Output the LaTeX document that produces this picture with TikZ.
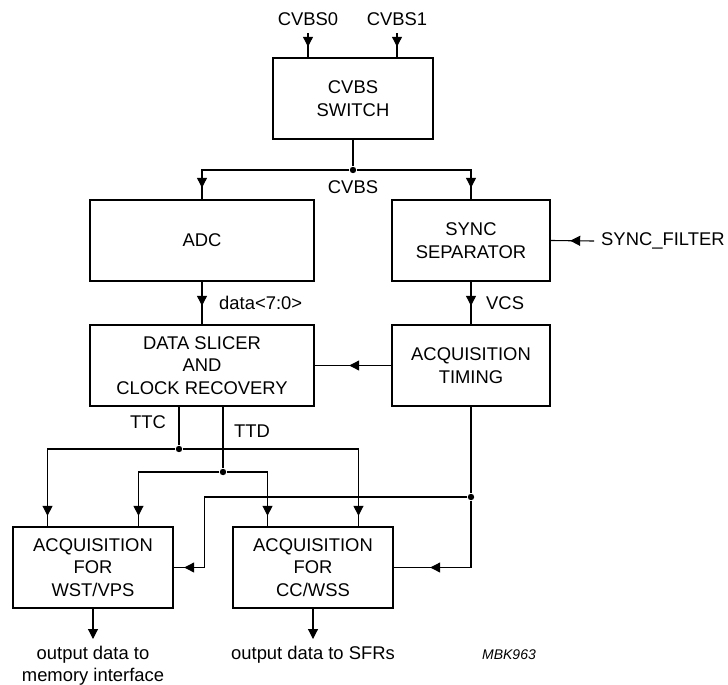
\documentclass[tikz,border=0pt]{standalone}
\usepackage{fontspec}
\setmainfont{Liberation Sans}
\usetikzlibrary{arrows.meta,decorations.markings,calc}

\begin{document}
\begin{tikzpicture}[x=0.5pt,y=-0.5pt,
  font=\fontsize{9.2}{11.2}\selectfont,
  line width=0.55pt,
  >={Triangle[length=5pt,width=5pt]},
  block/.style={rectangle,draw,line width=1.2pt,minimum width=80pt,minimum height=40.5pt,inner sep=0pt,align=center},
  dot/.style={circle,fill,inner sep=0pt,minimum size=3.2pt},
  arrowat/.style={postaction={decorate},decoration={markings,mark=at position #1 with {\arrow{>}}}}]
\useasboundingbox (0,0) rectangle (728,685);
\node[block] (sw) at (353,98.5) {CVBS\\SWITCH};
\node[block,minimum width=112pt] (adc) at (202,240.5) {ADC};
\node[block,minimum width=79pt] (sync) at (471,240.5) {SYNC\\SEPARATOR};
\node[block,minimum width=112pt] (slicer) at (202,365.5) {DATA SLICER\\AND\\CLOCK RECOVERY};
\node[block,minimum width=79pt] (timing) at (471,365.5) {ACQUISITION\\TIMING};
\node[block] (wst) at (93,567.5) {ACQUISITION\\FOR\\WST/VPS};
\node[block] (cc) at (313,567.5) {ACQUISITION\\FOR\\CC/WSS};
% input ports of the two acquisition blocks
\coordinate (wstin1) at ($(wst.north west)!.22!(wst.north east)$);
\coordinate (wstin2) at ($(wst.north west)!.78!(wst.north east)$);
\coordinate (ccin1) at ($(cc.north west)!.22!(cc.north east)$);
\coordinate (ccin2) at ($(cc.north west)!.78!(cc.north east)$);
% video inputs
\node (cvbs0) at (308,19.5) {CVBS0};
\node (cvbs1) at (397,19.5) {CVBS1};
\draw[arrowat=-5pt] (cvbs0.south) -- (cvbs0.south |- sw.north);
\draw[arrowat=-5pt] (cvbs1.south) -- (cvbs1.south |- sw.north);
\node[dot] (jcv) at (353,170) {};
\node (cvbs) at (353,187) {CVBS};
\draw (sw.south) -- (jcv);
\draw[arrowat=-5.5pt] (jcv) -| (adc.north);
\draw[arrowat=-5.5pt] (jcv) -| (sync.north);
\node[anchor=west] (syncf) at (594,241) {SYNC\_FILTER};
\draw[arrowat=-9.5pt] (syncf.west) -- (sync.east);
\draw[arrowat=-9pt] (adc.south) -- node[right,xshift=5pt] (data) {data<7:0>} (slicer.north);
\draw[arrowat=-9pt] (sync.south) -- node[right,xshift=4pt] (vcs) {VCS} (timing.north);
\draw[arrowat=-17pt] (timing.west) -- (slicer.east);
% TTC and TTD
\node[dot] (jttc) at (179,449) {};
\node[dot] (jttd) at (223,472) {};
\draw (slicer.south -| jttc) -- node[left,pos=0.4,xshift=-3pt] (ttc) {TTC} (jttc);
\draw (slicer.south -| jttd) -- node[right,pos=0.4,xshift=2pt] (ttd) {TTD} (jttd);
\draw[arrowat=-5pt] (jttc) -| (wstin1);
\draw[arrowat=-5pt] (jttc) -| (ccin2);
\draw[arrowat=-5pt] (jttd) -| (wstin2);
\draw[arrowat=-5pt] (jttd) -| (ccin1);
% timing to acquisition
\node[dot] (jtim) at (471,497) {};
\draw (timing.south) -- (jtim);
\draw[arrowat=-5pt] (jtim) -| ($(wst.east)+(30,0)$) -- (wst.east);
\draw[arrowat=-18pt] (jtim) |- (cc.east);
% outputs
\node[anchor=north,align=center] (outw) at (93,639) {output data to\\memory interface};
\node[anchor=north] (outc) at (313,639) {output data to SFRs};
\draw[->] (wst.south) -- (outw.north);
\draw[->] (cc.south) -- (outc.north);
\node[font=\fontsize{7}{8}\selectfont\itshape] (mbk) at (509,655) {MBK963};
\end{tikzpicture}
\end{document}
